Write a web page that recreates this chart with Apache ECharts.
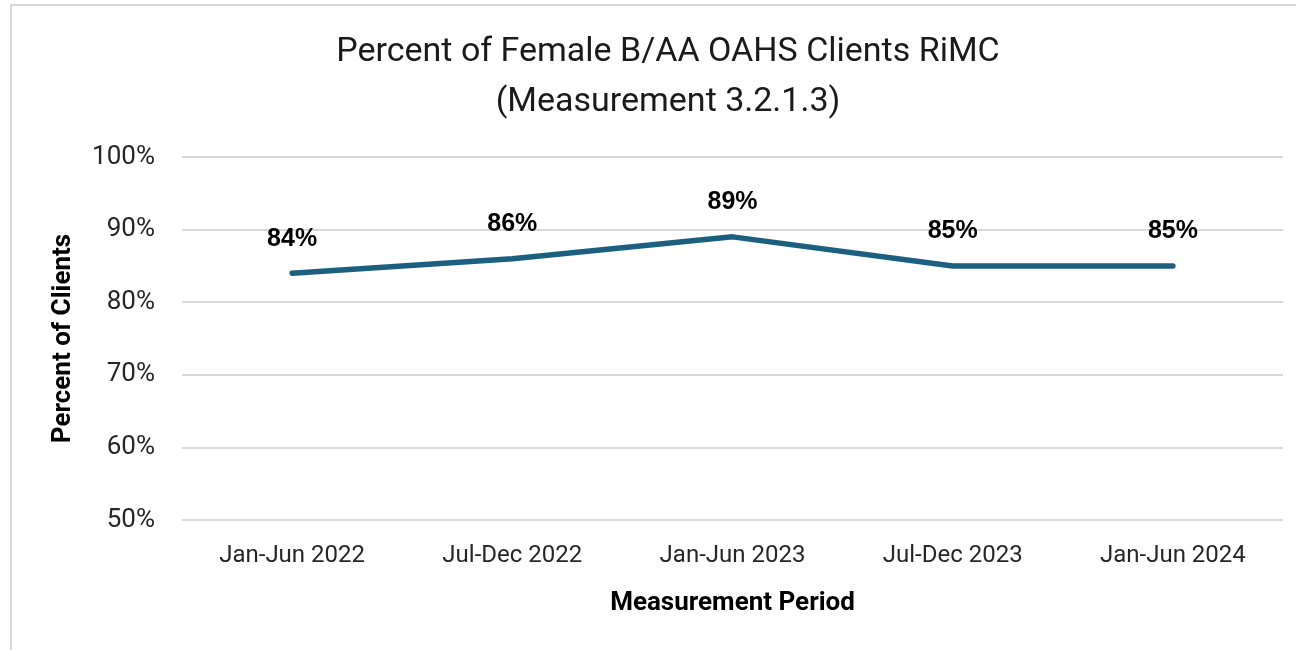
<!DOCTYPE html>
<html><head><meta charset="utf-8">
<script src="https://cdn.jsdelivr.net/npm/echarts@6/dist/echarts.min.js"></script>
<style>html,body{margin:0;padding:0;background:#fff}#c{width:1296px;height:650px}</style>
</head><body><div id="c"></div>
<script>
const categories = ["Jan-Jun 2022","Jul-Dec 2022","Jan-Jun 2023","Jul-Dec 2023","Jan-Jun 2024"];
const values = [84, 86, 89, 85, 85];
const titleText = "Percent of Female B/AA OAHS Clients RiMC\n(Measurement 3.2.1.3)";
const yName = "Percent of Clients";
const xName = "Measurement Period";

const chart = echarts.init(document.getElementById('c'));
chart.setOption({
  animation: false,
  backgroundColor: '#fff',
  graphic: [{
    type: 'rect', shape: {x: 11, y: 5, width: 1300, height: 700},
    style: {fill: 'none', stroke: '#d9d9d9', lineWidth: 2}, silent: true
  }],
  title: {
    text: titleText, left: 663, top: 22, textAlign: 'center',
    textStyle: {fontFamily: 'Roboto', fontSize: 34, fontWeight: 'normal', color: '#1a1a1a', lineHeight: 50}
  },
  grid: {left: 182, right: 13, top: 157, bottom: 130, containLabel: false},
  xAxis: {
    type: 'category', data: categories, boundaryGap: true,
    axisLine: {show: false}, axisTick: {show: false},
    axisLabel: {fontFamily: 'Roboto', fontSize: 24, color: '#262626', margin: 24},
    name: xName, nameLocation: 'middle', nameGap: 70,
    nameTextStyle: {fontFamily: 'Roboto', fontSize: 26, fontWeight: 'bold', color: '#000'}
  },
  yAxis: {
    type: 'value', min: 50, max: 100, interval: 10,
    axisLine: {show: false}, axisTick: {show: false},
    splitLine: {lineStyle: {color: '#d9d9d9', width: 2}},
    axisLabel: {fontFamily: 'Roboto', fontSize: 26, color: '#262626', margin: 27, formatter: '{value}%'},
    name: yName, nameLocation: 'middle', nameGap: 106,
    nameTextStyle: {fontFamily: 'Roboto', fontSize: 26, fontWeight: 'bold', color: '#000'}
  },
  series: [{
    type: 'line', data: values, symbol: 'circle', symbolSize: 2, showSymbol: true,
    itemStyle: {color: 'rgba(29,95,128,0)', borderWidth: 0},
    lineStyle: {color: '#1d5f80', width: 5.5, cap: 'round', join: 'round'},
    label: {show: true, position: 'top', distance: 21, formatter: '{c}%',
      fontFamily: 'Liberation Sans', fontSize: 25, fontWeight: 'bold', color: '#000'}
  }]
});
</script></body></html>
